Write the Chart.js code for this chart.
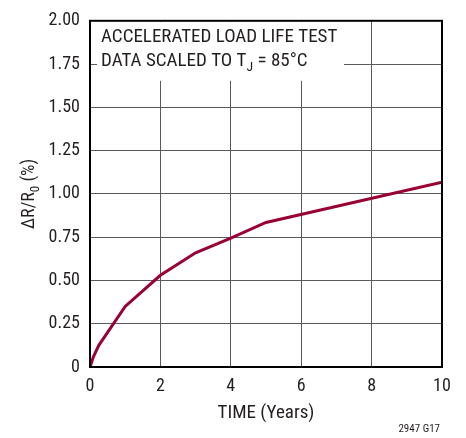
<!DOCTYPE html>
<html>
<head>
<meta charset="utf-8">
<script src="https://cdn.jsdelivr.net/npm/chart.js@4"></script>
<style>
  html, body { margin: 0; padding: 0; background: #fff; }
  #wrap { width: 466px; height: 438px; }
</style>
</head>
<body>
<div id="wrap"><canvas id="chart" width="466" height="438"></canvas></div>
<script>
// データ
const years = [0, 0.1, 0.25, 0.5, 1, 2, 3, 4, 5, 10];
const drift = [0, 0.06, 0.125, 0.2, 0.35, 0.53, 0.66, 0.745, 0.835, 1.068];
const xTicks = [0, 2, 4, 6, 8, 10];
const yTicks = [0, 0.25, 0.5, 0.75, 1, 1.25, 1.5, 1.75, 2];
const noteLines = ['ACCELERATED LOAD LIFE TEST', 'DATA SCALED TO T|J| = 85°C'];

const FONT = '"Liberation Sans Narrow", "Arial Narrow", "Roboto Condensed", Roboto, sans-serif';
const TEXT_COLOR = '#231f20';

/**
 * 下付き文字つきのテキストを描く  'T|J|' の J が下付き
 */
function drawSubText(ctx, text, x, y, size) {
  const parts = text.split('|');
  let cx = x;
  parts.forEach(function (p, i) {
    const sub = i % 2 === 1;
    ctx.font = (sub ? size * 0.72 : size) + 'px ' + FONT;
    ctx.fillText(p, cx, sub ? y + size * 0.25 : y);
    cx += ctx.measureText(p).width;
  });
  return cx - x;
}

function measureSubText(ctx, text, size) {
  const parts = text.split('|');
  let w = 0;
  parts.forEach(function (p, i) {
    ctx.font = (i % 2 === 1 ? size * 0.72 : size) + 'px ' + FONT;
    w += ctx.measureText(p).width;
  });
  return w;
}

const decorations = {
  id: 'decorations',
  // 注記の白い箱（グリッドを隠す）
  beforeDatasetsDraw(chart) {
    const { ctx, chartArea: { top } } = chart;
    ctx.save();
    ctx.fillStyle = '#fff';
    ctx.fillRect(97, top + 1, 247, 59);
    ctx.restore();
  },
  afterDraw(chart) {
    const { ctx, chartArea: { top, right, bottom, left } } = chart;
    ctx.save();
    // 枠線
    ctx.strokeStyle = '#000';
    ctx.lineWidth = 2;
    ctx.strokeRect(left, top, right - left, bottom - top);

    ctx.fillStyle = TEXT_COLOR;
    ctx.textBaseline = 'alphabetic';
    ctx.textAlign = 'left';
    // 注記
    drawSubText(ctx, noteLines[0], 101, 42, 19);
    drawSubText(ctx, noteLines[1], 101, 66, 19);

    // x軸タイトル
    ctx.font = '19px ' + FONT;
    ctx.textAlign = 'center';
    ctx.fillText('TIME (Years)', (left + right) / 2, 418);

    // y軸タイトル（回転）
    const yt = '\u0394R/R|0| (%)';
    ctx.textAlign = 'left';
    const w = measureSubText(ctx, yt, 18);
    ctx.translate(34, (top + bottom) / 2 + w / 2);
    ctx.rotate(-Math.PI / 2);
    drawSubText(ctx, yt, 0, 0, 18);
    ctx.setTransform(1, 0, 0, 1, 0, 0);

    // 図番号
    ctx.font = '11px ' + FONT;
    ctx.textAlign = 'right';
    ctx.fillText('2947 G17', 440, 432);
    ctx.restore();
  },
};

new Chart(document.getElementById('chart'), {
  type: 'line',
  data: {
    datasets: [
      {
        data: years.map((x, i) => ({ x: x, y: drift[i] })),
        borderColor: '#990033',
        borderWidth: 3,
        pointRadius: 0,
        tension: 0,
        fill: false,
      },
    ],
  },
  options: {
    responsive: false,
    animation: false,
    layout: { padding: { left: 0, top: 15, right: 24, bottom: 0 } },
    plugins: { legend: { display: false }, tooltip: { enabled: false } },
    scales: {
      x: {
        type: 'linear',
        min: 0,
        max: 10,
        afterBuildTicks(scale) {
          scale.ticks = xTicks.map((v) => ({ value: v }));
        },
        afterFit(scale) {
          scale.height = 71;
        },
        grid: { color: '#5a5a5a', lineWidth: 1, drawTicks: false },
        border: { display: false },
        ticks: {
          padding: 9,
          color: TEXT_COLOR,
          font: { family: FONT, size: 18 },
          maxRotation: 0,
          callback: (v) => String(v),
        },
      },
      y: {
        type: 'linear',
        min: 0,
        max: 2,
        afterBuildTicks(scale) {
          scale.ticks = yTicks.map((v) => ({ value: v }));
        },
        afterFit(scale) {
          scale.width = 90;
        },
        grid: { color: '#5a5a5a', lineWidth: 1, drawTicks: false },
        border: { display: false },
        ticks: {
          padding: 10,
          color: TEXT_COLOR,
          font: { family: FONT, size: 18 },
          callback: (v) => (v === 0 ? '0' : v.toFixed(2)),
        },
      },
    },
  },
  plugins: [decorations],
});
</script>
</body>
</html>
